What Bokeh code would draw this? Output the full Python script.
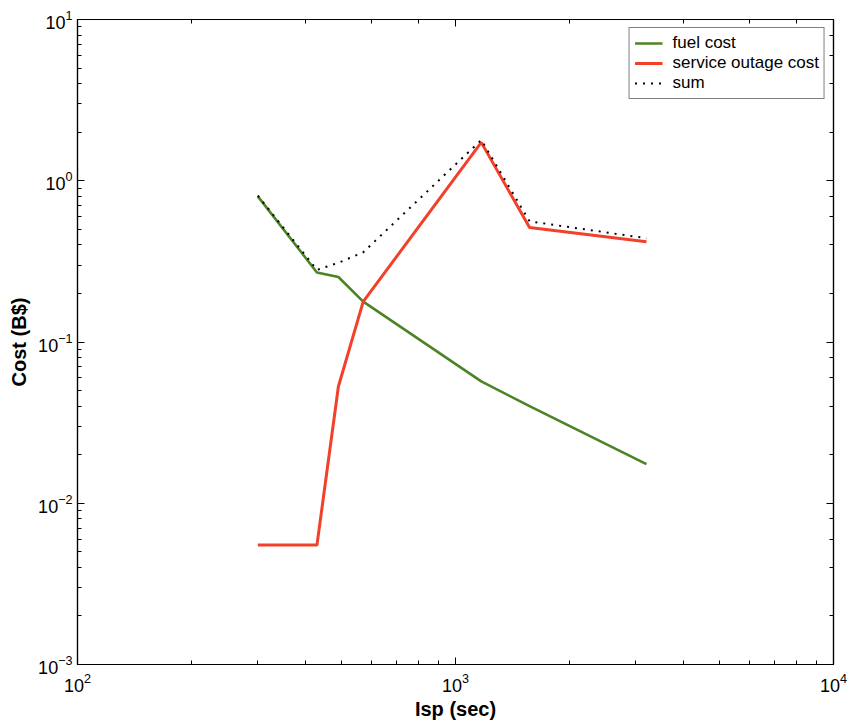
from bokeh.plotting import figure
from bokeh.models import LogAxis, Legend, LegendItem, Range1d
from bokeh.embed import file_html
from bokeh.resources import INLINE

# Specific impulse (s) and the cost components (billions of $)
isp = [300, 430, 490, 570, 1170, 1570, 3200]
fuel_cost = [0.80, 0.27, 0.253, 0.178, 0.057, 0.040, 0.0175]
outage_cost = [0.0055, 0.0055, 0.053, 0.178, 1.73, 0.513, 0.418]
total_cost = [0.81, 0.28, 0.31, 0.36, 1.79, 0.56, 0.44]

FONT = "Liberation Sans"

p = figure(
    width=853, height=723,
    x_axis_type="log", y_axis_type="log",
    x_range=Range1d(100, 10000), y_range=Range1d(0.001, 10),
    output_backend="svg", toolbar_location=None,
    min_border_left=77, min_border_right=20,
    min_border_top=19, min_border_bottom=59,
)
p.frame_width = 756
p.frame_height = 645
p.background_fill_color = "white"
p.border_fill_color = "white"
p.xgrid.visible = False
p.ygrid.visible = False
p.outline_line_color = "black"
p.outline_line_width = 1.2

def style_axis(ax, labels=True):
    ax.axis_line_color = "black"
    ax.axis_line_width = 1.2
    ax.major_tick_in = 7
    ax.major_tick_out = 0
    ax.minor_tick_in = 4
    ax.minor_tick_out = 0
    ax.major_tick_line_color = "black"
    ax.minor_tick_line_color = "black"
    ax.major_label_text_font = FONT
    ax.major_label_text_font_size = "18px"
    ax.major_label_text_color = "black"
    if not labels:
        ax.major_label_text_alpha = 0
        ax.major_label_text_font_size = "1px"

for ax in p.xaxis + p.yaxis:
    style_axis(ax)
    ax.axis_label_text_font = FONT
    ax.axis_label_text_font_style = "bold"
    ax.axis_label_text_font_size = "20px"
    ax.axis_label_text_color = "black"

p.xaxis.axis_label = "Isp (sec)"
p.yaxis.axis_label = "Cost (B$)"
p.xaxis.major_label_standoff = 8
p.yaxis.major_label_standoff = 5
p.xaxis.axis_label_standoff = 3
p.yaxis.axis_label_standoff = 5

# mirrored tick marks on the top and right edges
top = LogAxis()
right = LogAxis()
style_axis(top, labels=False)
style_axis(right, labels=False)
p.add_layout(top, "above")
p.add_layout(right, "right")

r_fuel = p.line(isp, fuel_cost, line_color="#4a8424", line_width=2.6)
r_out = p.line(isp, outage_cost, line_color="#f2412a", line_width=3)
r_sum = p.line(isp, total_cost, line_color="black", line_width=2, line_dash="2 6")

legend = Legend(
    items=[
        LegendItem(label="fuel cost", renderers=[r_fuel]),
        LegendItem(label="service outage cost", renderers=[r_out]),
        LegendItem(label="sum", renderers=[r_sum]),
    ],
    location="top_right",
    label_text_font=FONT,
    label_text_font_size="17px",
    label_text_color="black",
    label_height=18,
    label_standoff=10,
    glyph_width=28,
    glyph_height=18,
    spacing=0,
    padding=5,
    margin=8,
    border_line_color="black",
    border_line_width=1.2,
    background_fill_alpha=1,
)
p.add_layout(legend)

open("out.html", "w").write(file_html(p, INLINE))
